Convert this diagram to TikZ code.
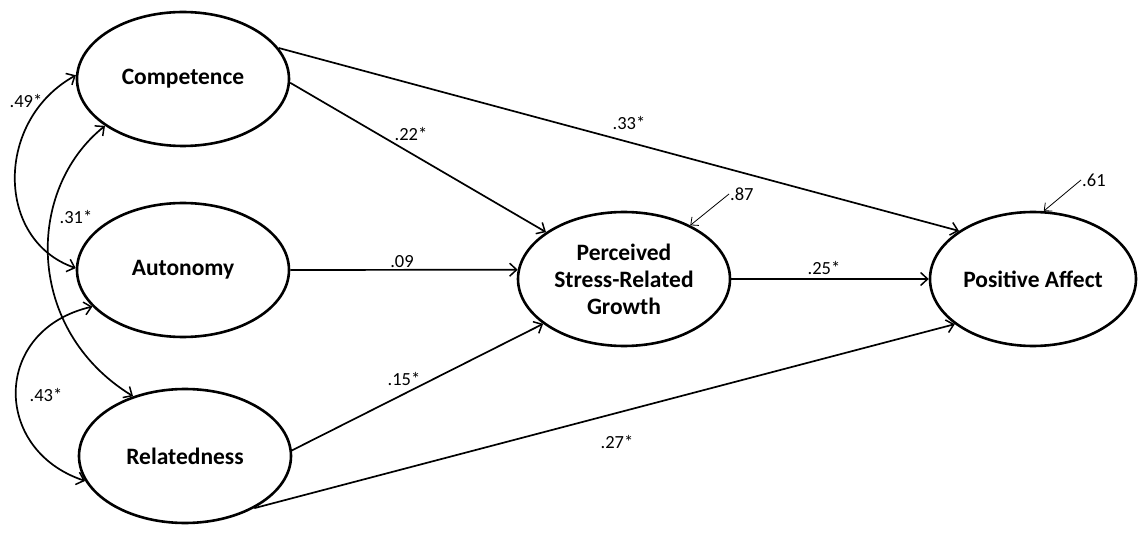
\documentclass[tikz,border=0pt]{standalone}
\usepackage{fontspec}
\setmainfont{Carlito}
\usetikzlibrary{arrows.meta,shapes.geometric}
\begin{document}
\begin{tikzpicture}[x=1pt,y=-1pt,
  latent/.style={ellipse,draw,line width=2.6pt,minimum width=212pt,minimum height=134pt,inner sep=0pt,font=\fontsize{23.5}{27}\selectfont\bfseries,align=center},
  path/.style={line width=1.7pt,-{Straight Barb[length=7pt,width=13pt,line width=1.5pt]}},
  cov/.style={line width=1.7pt,{Straight Barb[length=7pt,width=13pt,line width=1.5pt]}-{Straight Barb[length=7pt,width=13pt,line width=1.5pt]}},
  resid/.style={line width=0.8pt,-{Straight Barb[length=6pt,width=11pt,line width=0.8pt]}},
  lab/.style={font=\fontsize{18.5}{21}\selectfont,inner sep=1pt}]
\useasboundingbox (0,0) rectangle (1138,545);
\node[latent] (comp) at (183,79) {Competence};
\node[latent] (aut) at (183,270) {Autonomy};
\node[latent] (rel) at (185,456) {Relatedness};
\node[latent] (psg) at (624,279) {Perceived\\Stress-Related\\Growth};
\node[latent,minimum width=206pt] (pa) at (1033,279) {Positive Affect};
% structural paths
\draw[path] (comp.-2) -- (psg.149);
\draw[path] (comp.18) -- (pa.147);
\draw[path] (aut.east) -- (psg.175);
\draw[path] (psg.east) -- (pa.west);
\draw[path] (rel.3) -- (psg.209);
\draw[path] (rel.-37) -- (pa.210);
% covariances
\draw[cov] (comp.178) .. controls (-5,120) and (-5,240) .. (aut.179);
\draw[cov] (comp.211) .. controls (25,190) and (25,330) .. (rel.131);
\draw[cov] (aut.202) .. controls (-8,330) and (-8,450) .. (rel.194);
% residuals
\node[lab,anchor=west] (e1) at (729,194) {.87};
\node[lab,anchor=west] (e2) at (1081,180) {.61};
\draw[resid] (e1.west) -- (psg.39);
\draw[resid] (e2.west) -- (pa.81);
% labels
\node[lab] (l49) at (26,101) {.49*};
\node[lab] (l31) at (76,217) {.31*};
\node[lab] (l43) at (46,395) {.43*};
\node[lab] (l22) at (411,134) {.22*};
\node[lab] (l33) at (629,123) {.33*};
\node[lab] (l09) at (402,262) {.09};
\node[lab] (l25) at (824,268) {.25*};
\node[lab] (l15) at (404,379) {.15*};
\node[lab] (l27) at (617,442) {.27*};
\end{tikzpicture}
\end{document}
